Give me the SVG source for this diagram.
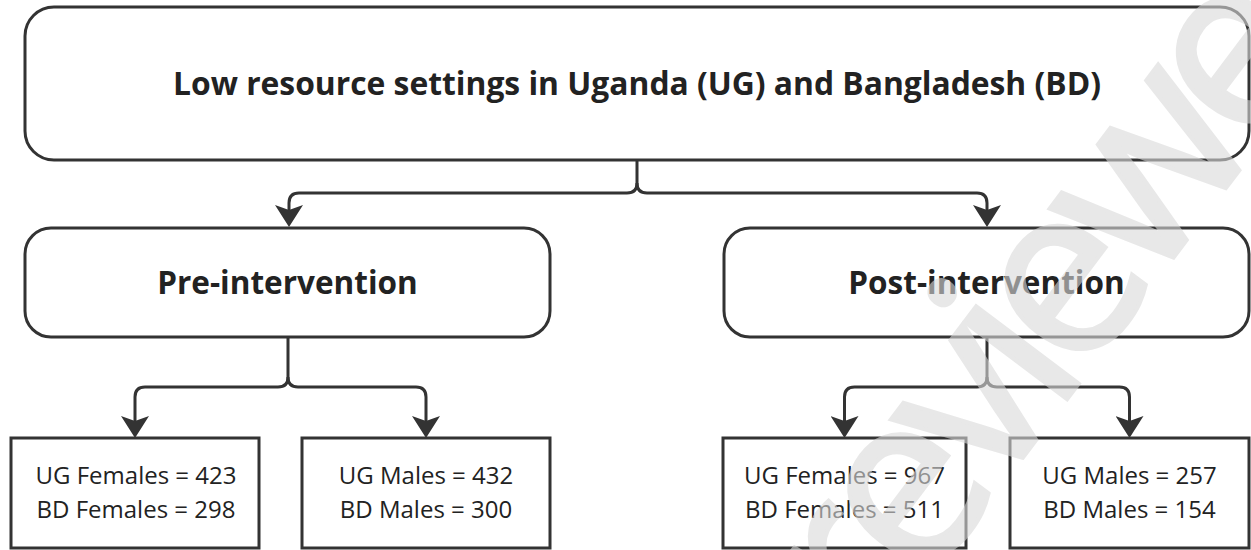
<svg xmlns="http://www.w3.org/2000/svg" width="1251" height="550" viewBox="0 0 1251 550">
<style>
.box{fill:#fff;stroke:#333;stroke-width:3}
.conn{fill:none;stroke:#333;stroke-width:3}
.title{font-family:"Open Sans","Noto Sans",sans-serif;font-weight:bold;fill:#222;text-anchor:middle}
.body{font-family:"Open Sans","Noto Sans",sans-serif;font-size:24px;fill:#222;text-anchor:middle}
.wm{font-family:"Open Sans","Noto Sans",sans-serif;font-size:240px;letter-spacing:-18px;fill:#d9d9d9;stroke:#d9d9d9;stroke-width:4;opacity:0.6}
</style>
<defs>
<marker id="arrow" viewBox="0 -14 22 28" refX="5" refY="0" markerUnits="userSpaceOnUse" markerWidth="22" markerHeight="28" orient="auto">
<path d="M0,-14 L22,0 L0,14 L5,0 Z" fill="#333"/>
</marker>
</defs>
<rect width="1251" height="550" fill="#fff"/>
<g id="connectors">
<path class="conn" d="M637,160 V183 Q637,193 627,193 H299 Q289,193 289,203 V210" marker-end="url(#arrow)"/>
<path class="conn" d="M637,183 Q637,193 647,193 H977 Q987,193 987,203 V210" marker-end="url(#arrow)"/>
<path class="conn" d="M288,337 V377 Q288,387 278,387 H145 Q135,387 135,397 V421" marker-end="url(#arrow)"/>
<path class="conn" d="M288,377 Q288,387 298,387 H416 Q426,387 426,397 V421" marker-end="url(#arrow)"/>
<path class="conn" d="M987,337 V377 Q987,387 977,387 H854.5 Q844.5,387 844.5,397 V421" marker-end="url(#arrow)"/>
<path class="conn" d="M987,377 Q987,387 997,387 H1119.5 Q1129.5,387 1129.5,397 V421" marker-end="url(#arrow)"/>
</g>
<g id="node-root">
<rect class="box" x="25" y="7" width="1224" height="153" rx="29"/>
<text class="title" x="637" y="95" font-size="31.8">Low resource settings in Uganda (UG) and Bangladesh (BD)</text>
</g>
<g id="node-pre">
<rect class="box" x="25" y="228" width="525" height="109" rx="26"/>
<text class="title" x="287.5" y="294" font-size="31.5">Pre-intervention</text>
</g>
<g id="node-post">
<rect class="box" x="724" y="228" width="525" height="109" rx="26"/>
<text class="title" x="986.5" y="294" font-size="31.5">Post-intervention</text>
</g>
<g id="node-pre-females">
<rect class="box" x="11" y="438" width="248" height="110"/>
<text class="body" x="136" y="484">UG Females = 423</text>
<text class="body" x="136" y="518">BD Females = 298</text>
</g>
<g id="node-pre-males">
<rect class="box" x="302" y="438" width="248" height="110"/>
<text class="body" x="426" y="484">UG Males = 432</text>
<text class="body" x="426" y="518">BD Males = 300</text>
</g>
<g id="node-post-females">
<rect class="box" x="723" y="438" width="243" height="110"/>
<text class="body" x="844.5" y="484">UG Females = 967</text>
<text class="body" x="844.5" y="518">BD Females = 511</text>
</g>
<g id="node-post-males">
<rect class="box" x="1010" y="438" width="239" height="110"/>
<text class="body" x="1129.5" y="484">UG Males = 257</text>
<text class="body" x="1129.5" y="518">BD Males = 154</text>
</g>
<text class="wm" transform="translate(875,654) rotate(-53)">reviewed</text>
</svg>
